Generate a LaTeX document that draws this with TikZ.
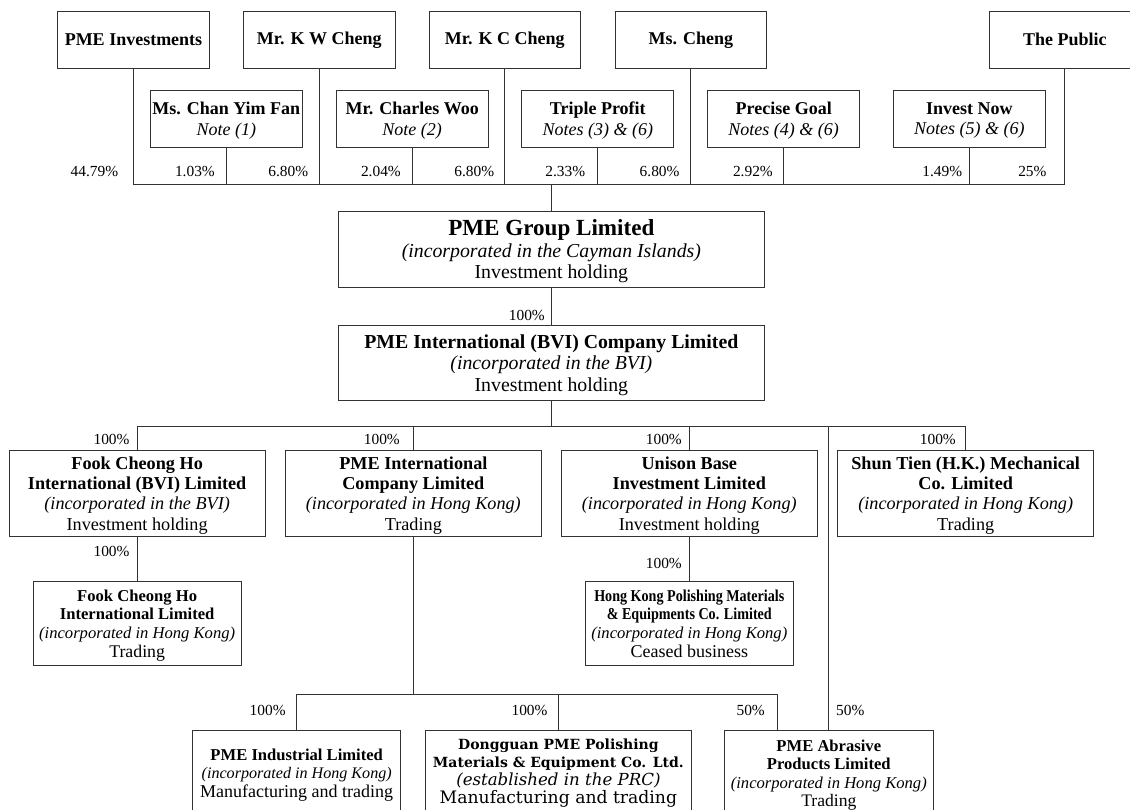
\documentclass[tikz,border=0pt]{standalone}
\usepackage{fontspec}
\setmainfont{Liberation Serif}
\newfontfamily\narrowfont[FakeStretch=0.85]{Liberation Serif}
\newfontfamily\wideserif{DejaVu Serif}
\usepackage{tikz}

\tikzset{
  entity/.style = {draw=black!80, line width=0.9pt, align=center, inner sep=0pt},
  holder/.style = {entity, minimum width=151.5, minimum height=57, font=\fontsize{18}{20.7}\selectfont\bfseries},
  stacked/.style = {entity, text depth=-3pt},
  trust/.style  = {stacked, minimum width=152, minimum height=56.7, font=\fontsize{18}{20.7}\selectfont},
  parent/.style = {stacked, minimum width=425.3, minimum height=75.3, font=\fontsize{19.8}{21.5}\selectfont},
  sub/.style    = {stacked, minimum width=255.8, minimum height=85.3, font=\fontsize{18.2}{20.3}\selectfont},
  subsub/.style = {stacked, minimum width=208.2, minimum height=84.7, font=\fontsize{16.6}{18.7}\selectfont},
  plant/.style  = {stacked, minimum width=208, minimum height=85, font=\fontsize{16.6}{18.4}\selectfont},
  link/.style   = {draw=black!80, line width=0.9pt},
  share/.style  = {inner sep=0pt, font=\fontsize{15.4}{17}\selectfont}
}

\begin{document}
\begin{tikzpicture}[x=1pt, y=-1pt]
\useasboundingbox (0,0) rectangle (1130,809);
\clip (0,0) rectangle (1130,809);

% shareholders
\node[holder] (pmeinv)  at (133.5,39.8)  {PME Investments};
\node[holder] (kwcheng) at (319.2,39.8)  {Mr. K W Cheng};
\node[holder] (kccheng) at (504.8,39.8)  {Mr. K C Cheng};
\node[holder] (mscheng) at (690.8,39.8)  {Ms. Cheng};
\node[holder] (public)  at (1064.9,39.8) {The Public};

\node[trust] (chan)      at (226.3,118.7) {\textbf{Ms. Chan Yim Fan}\\\textit{Note (1)}};
\node[trust] (woo)       at (412.2,118.7) {\textbf{Mr. Charles Woo}\\\textit{Note (2)}};
\node[trust] (triple)    at (597.8,118.7) {\textbf{Triple Profit}\\\textit{Notes (3) \& (6)}};
\node[trust] (precise)   at (783.7,118.7) {\textbf{Precise Goal}\\\textit{Notes (4) \& (6)}};
\node[trust] (investnow) at (969.3,118.7) {\textbf{Invest Now}\\\textit{Notes (5) \& (6)}};

\coordinate (topbar) at (0,184.3);
\draw[link] (pmeinv.south) -- (pmeinv.south |- topbar) -- (public.south |- topbar) -- (public.south);
\foreach \n in {kwcheng, kccheng, mscheng, chan, woo, triple, precise, investnow}
  \draw[link] (\n.south) -- (\n.south |- topbar);

\foreach \x/\p [count=\i] in {118.3/44.79, 215/1.03, 308.3/6.80, 401/2.04, 494.3/6.80,
                              585.3/2.33, 679.7/6.80, 773/2.92, 962.3/1.49, 1046.7/25}
  \node[share, anchor=east] (s\i) at (\x,171.2) {\p\%};

% listed company
\node[parent] (group) at (551.35,249.35)
  {{\fontsize{23.1}{21.5}\selectfont\bfseries PME Group Limited}\\
   \textit{(incorporated in the Cayman Islands)}\\
   Investment holding};
\node[parent] (bvico) at (551.35,362.65)
  {\textbf{PME International (BVI) Company Limited}\\
   \textit{(incorporated in the BVI)}\\
   Investment holding};
\draw[link] (group.north) -- (group.north |- topbar);
\draw[link] (group) -- (bvico);
\node[share, anchor=east] (g1) at (545,315.7) {100\%};

% subsidiaries
\node[sub] (fookbvi) at (137.15,493.35)
  {\textbf{Fook Cheong Ho}\\\textbf{International (BVI) Limited}\\
   \textit{(incorporated in the BVI)}\\Investment holding};
\node[sub] (pmeintl) at (413.35,493.35)
  {\textbf{PME International}\\\textbf{Company Limited}\\
   \textit{(incorporated in Hong Kong)}\\Trading};
\node[sub] (unison) at (689.3,493.35)
  {\textbf{Unison Base}\\\textbf{Investment Limited}\\
   \textit{(incorporated in Hong Kong)}\\Investment holding};
\node[sub] (shuntien) at (965.7,493.35)
  {\textbf{Shun Tien (H.K.) Mechanical}\\\textbf{Co. Limited}\\
   \textit{(incorporated in Hong Kong)}\\Trading};

\coordinate (midbar) at (0,426.3);
\draw[link] (bvico.south) -- (bvico.south |- midbar);
\draw[link] (fookbvi.north) -- (fookbvi.north |- midbar) -- (shuntien.north |- midbar) -- (shuntien.north);
\foreach \n in {pmeintl, unison}
  \draw[link] (\n.north) -- (\n.north |- midbar);

\foreach \x [count=\i] in {129.7, 400, 682, 956}
  \node[share, anchor=east] (m\i) at (\x,439.3) {100\%};

\node[subsub] (fookhk) at (137.15,623.35)
  {\textbf{Fook Cheong Ho}\\\textbf{International Limited}\\
   \textit{(incorporated in Hong Kong)}\\{\fontsize{17.8}{18.7}\selectfont Trading}};
\node[subsub] (hkpolish) at (689.3,623.35)
  {{\narrowfont\bfseries Hong Kong Polishing Materials}\\
   {\narrowfont\bfseries \& Equipments Co. Limited}\\
   \textit{(incorporated in Hong Kong)}\\{\fontsize{18}{18.7}\selectfont Ceased business}};
\draw[link] (fookbvi) -- (fookhk);
\draw[link] (unison) -- (hkpolish);
\node[share, anchor=east] (f1) at (129.7,551) {100\%};
\node[share, anchor=east] (u1) at (682,563.7) {100\%};

% operating companies
\node[plant] (pmeind) at (296.7,773.2)
  {\textbf{PME Industrial Limited}\\
   {\fontsize{16.1}{18.4}\selectfont\itshape (incorporated in Hong Kong)}\\
   {\fontsize{18}{18.4}\selectfont Manufacturing and trading}};
\node[plant, minimum width=265.2, text depth=4pt, font=\wideserif\fontsize{16.6}{18.3}\selectfont] (dongguan) at (558.4,773.2)
  {{\fontsize{14}{18.3}\selectfont\bfseries Dongguan PME Polishing}\\
   {\fontsize{14}{18.3}\selectfont\bfseries Materials \& Equipment Co. Ltd.}\\
   \textit{(established in the PRC)}\\
   {\fontsize{17.2}{18.3}\selectfont Manufacturing and trading}};
\node[plant, minimum width=208.3] (abrasive) at (828.8,773.2)
  {\textbf{PME Abrasive}\\\textbf{Products Limited}\\
   \textit{(incorporated in Hong Kong)}\\{\fontsize{17.6}{18.4}\selectfont Trading}};

\coordinate (lowbar) at (0,694);
\coordinate (abrjoin) at (777.6,730.7);
\draw[link] (pmeintl.south) -- (pmeintl.south |- lowbar);
\draw[link] (pmeind.north) -- (pmeind.north |- lowbar) -- (abrjoin |- lowbar) -- (abrjoin);
\draw[link] (dongguan.north) -- (dongguan.north |- lowbar);
\draw[link] (abrasive.north) -- (abrasive.north |- midbar);

\node[share, anchor=east] (b1) at (285.8,710.7) {100\%};
\node[share, anchor=east] (b2) at (547.7,710.7) {100\%};
\node[share, anchor=east] (b3) at (765,710.7) {50\%};
\node[share, anchor=west] (b4) at (836,710.7) {50\%};
\end{tikzpicture}
\end{document}
